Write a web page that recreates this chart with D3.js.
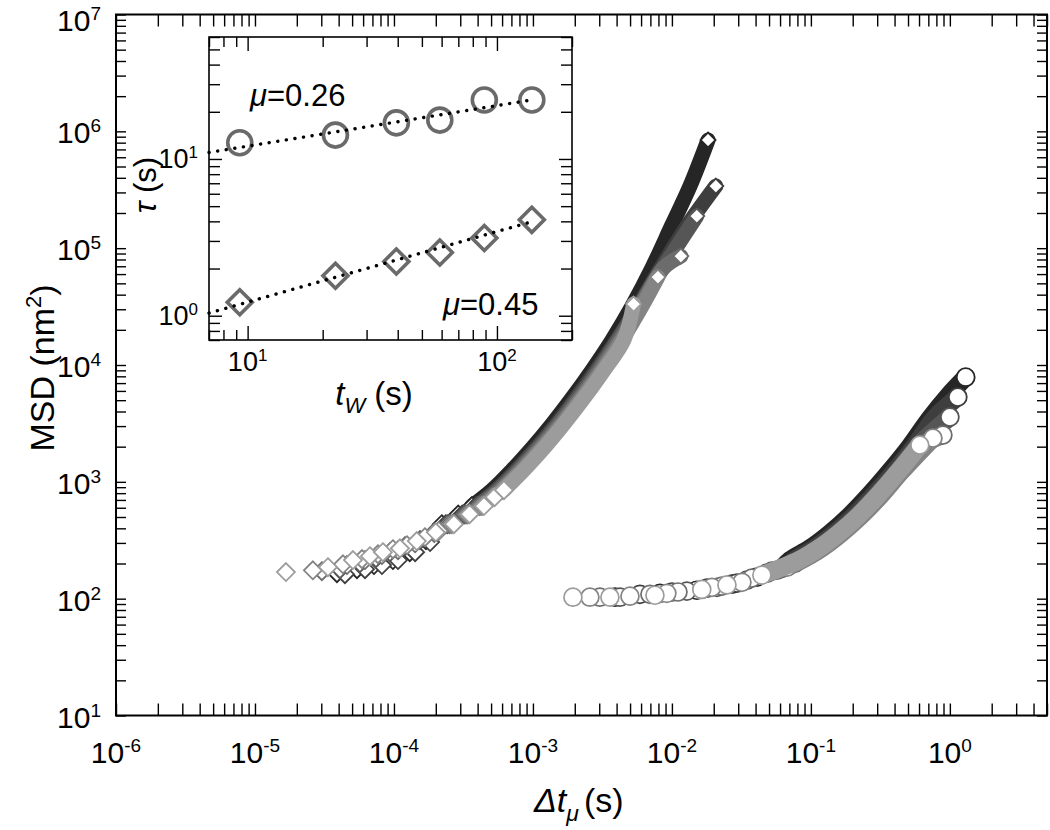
<!DOCTYPE html>
<html><head><meta charset="utf-8">
<script src="https://cdn.jsdelivr.net/npm/d3@7/dist/d3.min.js"></script>
<style>
html,body{margin:0;padding:0;background:#fff;}
svg{display:block;}
text{font-family:"Liberation Sans",Arial,Helvetica,sans-serif;fill:#000;}
</style></head><body>
<svg id="chart" width="1050" height="830"></svg>
<script>
// ---------------- tick labels ----------------
const xMajor = [1e-6, 1e-5, 1e-4, 1e-3, 1e-2, 1e-1, 1];
const xMajorExp = ["-6", "-5", "-4", "-3", "-2", "-1", "0"];
const yMajor = [1e1, 1e2, 1e3, 1e4, 1e5, 1e6, 1e7];
const yMajorExp = ["1", "2", "3", "4", "5", "6", "7"];
const insetXMajor = [10, 100];
const insetXMajorExp = ["1", "2"];
const insetYMajor = [1, 10];
const insetYMajorExp = ["0", "1"];

// ---------------- inset data ----------------
const waitTime = [9.3, 22.5, 39.5, 59, 89, 138];
const tauCircles = [12.7, 14.2, 17.0, 17.7, 23.8, 23.8];
const tauDiamonds = [1.22, 1.80, 2.22, 2.53, 3.13, 4.09];
const fitWaitTime = [7, 138];
const fitTauCircles = [11.0, 23.8];
const fitTauDiamonds = [1.04, 3.98];
const muLabels = ["=0.26", "=0.45"];

// ---------------- main data: diamonds (6 waiting times) ----------------
const diaDt1 = [3.89e-5,5.42e-5,7.18e-5,9.83e-5,1.30e-4,1.70e-4,2.21e-4,2.90e-4,3.64e-4,5.07e-4,7.06e-4,9.83e-4,1.37e-3,1.91e-3,2.66e-3,3.70e-3,5.16e-3,7.18e-3,1.00e-2,1.35e-2,1.82e-2];
const diaMsd1 = [165,179,194,214,250,317,434,525,620,849,1259,1941,3119,5212,9036,16330,31900,67600,157800,340000,843000];
const diaDt2 = [4.44e-5,6.19e-5,8.20e-5,1.07e-4,1.42e-4,1.82e-4,2.36e-4,3.10e-4,3.90e-4,5.42e-4,7.55e-4,1.05e-3,1.47e-3,2.04e-3,2.85e-3,4.00e-3,5.70e-3,8.30e-3,1.30e-2,2.07e-2];
const diaMsd2 = [162,179,194,214,250,305,434,525,620,849,1259,1941,3119,5212,9036,16330,31900,67600,157800,340000];
const diaDt3 = [4.09e-5,5.69e-5,7.42e-5,9.36e-5,1.20e-4,1.54e-4,1.95e-4,2.43e-4,3.20e-4,4.00e-4,5.58e-4,7.77e-4,1.08e-3,1.51e-3,2.10e-3,2.93e-3,4.07e-3,5.80e-3,8.60e-3,1.51e-2];
const diaMsd3 = [179,201,222,250,281,317,370,434,525,620,849,1259,1941,3119,5212,9036,16330,31900,67600,188400];
const diaDt4 = [3.03e-5,4.59e-5,6.19e-5,8.20e-5,1.07e-4,1.42e-4,1.95e-4,2.52e-4,3.30e-4,4.15e-4,5.78e-4,8.05e-4,1.12e-3,1.56e-3,2.18e-3,3.03e-3,4.22e-3,5.90e-3,8.70e-3,1.16e-2];
const diaMsd4 = [172,194,214,236,260,298,365,434,525,620,849,1259,1941,3119,5212,9036,16330,31900,67600,85500];
const diaDt5 = [2.61e-5,4.30e-5,5.89e-5,7.67e-5,9.83e-5,1.24e-4,1.67e-4,2.10e-4,2.61e-4,3.40e-4,4.30e-4,5.10e-4,5.98e-4,8.33e-4,1.16e-3,1.62e-3,2.25e-3,3.14e-3,4.37e-3,6.10e-3,7.93e-3];
const diaMsd5 = [175,197,218,240,265,287,336,380,434,525,620,730,849,1259,1941,3119,5212,9036,16330,31900,56600];
const diaDt6 = [1.67e-5,3.35e-5,5.07e-5,6.72e-5,8.33e-5,1.105e-4,1.46e-4,2.00e-4,2.70e-4,3.50e-4,4.44e-4,5.30e-4,6.19e-4,8.61e-4,1.20e-3,1.67e-3,2.33e-3,3.25e-3,4.51e-3,5.30e-3];
const diaMsd6 = [169,186,214,231,250,270,311,370,434,529,620,740,849,1259,1941,3119,5212,9036,16330,33200];
const diaDenseFrom = [9, 9, 10, 10, 13, 13];

// ---------------- main data: circles (6 waiting times) ----------------
const cirDt1 = [3.89e-3,8.20e-3,1.51e-2,2.70e-2,4.09e-2,6.19e-2,7.06e-2,9.83e-2,0.137,0.191,0.266,0.370,0.516,0.718,0.967,1.30];
const cirMsd1 = [103,111,118,133,153,182,214,270,364,519,785,1236,2023,3508,5420,7870];
const cirDt2 = [5.89e-3,1.00e-2,1.79e-2,2.94e-2,4.83e-2,7.06e-2,7.62e-2,0.106,0.148,0.206,0.287,0.400,0.557,0.775,1.14];
const cirMsd2 = [109,114,123,136,165,194,214,270,364,519,785,1236,2023,3508,5310];
const cirDt3 = [4.23e-3,1.28e-2,2.11e-2,3.46e-2,5.24e-2,7.67e-2,0.112,0.156,0.218,0.303,0.422,0.588,1.00];
const cirMsd3 = [103,116,125,144,172,201,270,364,519,785,1236,2023,3580];
const cirDt4 = [3.03e-3,6.95e-3,1.105e-2,2.29e-2,3.76e-2,5.69e-2,8.47e-2,0.118,0.164,0.229,0.319,0.444,0.619,0.890];
const cirMsd4 = [103,109,114,128,150,175,214,270,364,519,785,1236,2023,2512];
const cirDt5 = [2.57e-3,4.99e-3,9.20e-3,1.94e-2,3.19e-2,6.72e-2,8.61e-2,0.120,0.167,0.233,0.325,0.451,0.755];
const cirMsd5 = [103,105,111,125,138,186,214,270,364,519,785,1236,2366];
const cirDt6 = [1.94e-3,3.58e-3,7.55e-3,1.64e-2,2.49e-2,4.44e-2,8.19e-2,0.114,0.159,0.222,0.309,0.429,0.608];
const cirMsd6 = [103,103,107,120,131,159,214,270,364,519,785,1236,2061];
const cirDenseFrom = [6, 6, 6, 6, 6, 6];

const seriesGrays = ["#262626", "#3e3e3e", "#565656", "#6c6c6c", "#848484", "#9c9c9c"];

// ---------------- build ----------------
const svg = d3.select("#chart");
const x = d3.scaleLog().domain([1e-6, 5]).range([116, 1047]);
const y = d3.scaleLog().domain([10, 1e7]).range([715.5, 14.5]);

const isMajor = d => Math.abs(Math.log10(d) - Math.round(Math.log10(d))) < 1e-9;

function tickAxis(axis, tx, ty, attr, sign, majorLen, minorLen) {
  const g = svg.append("g").attr("transform", `translate(${tx},${ty})`).call(axis);
  g.select(".domain").remove();
  g.selectAll(".tick text").remove();
  g.selectAll(".tick line").attr("stroke", "#000").attr("stroke-width", 1.4)
    .attr(attr, d => sign * (isMajor(d) ? majorLen : minorLen));
  return g;
}

// main ticks (inward, all four sides)
tickAxis(d3.axisBottom(x).tickValues(x.ticks()).tickSizeOuter(0), 0, y.range()[0], "y2", -1, 12, 12);
tickAxis(d3.axisTop(x).tickValues(x.ticks()).tickSizeOuter(0), 0, y.range()[1], "y2", 1, 12, 12);
tickAxis(d3.axisLeft(y).tickValues(y.ticks()).tickSizeOuter(0), x.range()[0], 0, "x2", 1, 10, 10);
tickAxis(d3.axisRight(y).tickValues(y.ticks()).tickSizeOuter(0), x.range()[1], 0, "x2", -1, 10, 10);

svg.append("rect").attr("x", x.range()[0]).attr("y", y.range()[1])
  .attr("width", x.range()[1] - x.range()[0]).attr("height", y.range()[0] - y.range()[1])
  .attr("fill", "none").attr("stroke", "#000").attr("stroke-width", 2);

// main tick labels
svg.append("g").selectAll("text").data(xMajor).join("text")
  .attr("x", d => x(d)).attr("y", 763).attr("text-anchor", "middle").attr("font-size", 30)
  .each(function (d, i) {
    const t = d3.select(this);
    t.append("tspan").text("10");
    t.append("tspan").attr("font-size", 19).attr("dy", -11).text(xMajorExp[i]);
  });
svg.append("g").selectAll("text").data(yMajor).join("text")
  .attr("x", 101).attr("y", d => Math.max(y(d) + 12, 31)).attr("text-anchor", "end").attr("font-size", 30)
  .each(function (d, i) {
    const t = d3.select(this);
    t.append("tspan").text("10");
    t.append("tspan").attr("font-size", 19).attr("dy", -11).text(yMajorExp[i]);
  });

// axis titles
const xt = svg.append("text").attr("x", 534).attr("y", 812).attr("font-size", 34);
xt.append("tspan").attr("font-style", "italic").text("Δt");
xt.append("tspan").attr("font-style", "italic").attr("font-size", 23).attr("dy", 9).text("μ");
xt.append("tspan").attr("dy", -9).attr("dx", 5).text("(s)");

const yt = svg.append("text").attr("transform", "translate(54,368) rotate(-90)")
  .attr("text-anchor", "middle").attr("font-size", 34);
yt.append("tspan").text("MSD (nm");
yt.append("tspan").attr("font-size", 22).attr("dy", -13).text("2");
yt.append("tspan").attr("dy", 13).text(")");

// ---------------- main series ----------------
const diamondPath = r => `M0,${-r}L${r},0L0,${r}L${-r},0Z`;
const band = d3.line().x(d => x(d[0])).y(d => y(d[1])).curve(d3.curveCatmullRom.alpha(0.5));

const diaSeries = [
  [diaDt1, diaMsd1], [diaDt2, diaMsd2], [diaDt3, diaMsd3],
  [diaDt4, diaMsd4], [diaDt5, diaMsd5], [diaDt6, diaMsd6]
];
const cirSeries = [
  [cirDt1, cirMsd1], [cirDt2, cirMsd2], [cirDt3, cirMsd3],
  [cirDt4, cirMsd4], [cirDt5, cirMsd5], [cirDt6, cirMsd6]
];

const dataG = svg.append("g");
const endG = svg.append("g");

function drawSeries(list, denseFrom, shape, bandWidth) {
  list.forEach(([dts, msds], k) => {
    const pts = dts.map((t, i) => [t, msds[i]]);
    const col = seriesGrays[k];
    const g = dataG.append("g");
    g.append("path").attr("d", band(pts.slice(denseFrom[k] - 1)))
      .attr("fill", "none").attr("stroke", col).attr("stroke-width", bandWidth)
      .attr("stroke-linejoin", "round").attr("stroke-linecap", "round");
    const sparse = pts.slice(0, denseFrom[k]);
    if (shape === "diamond") {
      g.selectAll("path.m").data(sparse).join("path").attr("class", "m")
        .attr("d", diamondPath(9)).attr("transform", d => `translate(${x(d[0])},${y(d[1])})`)
        .attr("fill", "#fff").attr("stroke", col).attr("stroke-width", 1.8);
    } else {
      g.selectAll("circle").data(sparse).join("circle")
        .attr("cx", d => x(d[0])).attr("cy", d => y(d[1])).attr("r", 9)
        .attr("fill", "#fff").attr("stroke", col).attr("stroke-width", 1.7);
    }
    const last = pts[pts.length - 1];
    if (shape === "diamond") {
      endG.append("path").attr("d", diamondPath(7.5))
        .attr("transform", `translate(${x(last[0])},${y(last[1])})`)
        .attr("fill", "#fff").attr("stroke", col).attr("stroke-width", 1.8);
    } else {
      endG.append("circle").attr("cx", x(last[0])).attr("cy", y(last[1])).attr("r", 9)
        .attr("fill", "#fff").attr("stroke", col).attr("stroke-width", 1.8);
    }
  });
}
drawSeries(diaSeries, diaDenseFrom, "diamond", 15);
drawSeries(cirSeries, cirDenseFrom, "circle", 18);

// ---------------- inset ----------------
const xi = d3.scaleLog().domain([7, 200]).range([209, 572]);
const yi = d3.scaleLog().domain([0.7, 60]).range([340, 37]);

svg.append("rect").attr("x", 209).attr("y", 37).attr("width", 363).attr("height", 303)
  .attr("fill", "#fff");

tickAxis(d3.axisBottom(xi).tickValues(xi.ticks()).tickSizeOuter(0), 0, yi.range()[0], "y2", -1, 14, 10);
tickAxis(d3.axisTop(xi).tickValues(xi.ticks()).tickSizeOuter(0), 0, yi.range()[1], "y2", 1, 14, 10);
tickAxis(d3.axisLeft(yi).tickValues(yi.ticks()).tickSizeOuter(0), xi.range()[0], 0, "x2", 1, 13, 11);
tickAxis(d3.axisRight(yi).tickValues(yi.ticks()).tickSizeOuter(0), xi.range()[1], 0, "x2", -1, 13, 11);

const markerGray = "#6a6a6a";
svg.append("g").selectAll("circle").data(waitTime).join("circle")
  .attr("cx", d => xi(d)).attr("cy", (d, i) => yi(tauCircles[i])).attr("r", 12)
  .attr("fill", "none").attr("stroke", markerGray).attr("stroke-width", 3.6);
svg.append("g").selectAll("path").data(waitTime).join("path")
  .attr("d", diamondPath(12.5))
  .attr("transform", (d, i) => `translate(${xi(d)},${yi(tauDiamonds[i])})`)
  .attr("fill", "none").attr("stroke", markerGray).attr("stroke-width", 3.6);

const fitLine = d3.line().x(d => xi(d[0])).y(d => yi(d[1]));
[fitTauCircles, fitTauDiamonds].forEach(arr => {
  svg.append("path").attr("d", fitLine(fitWaitTime.map((t, i) => [t, arr[i]])))
    .attr("fill", "none").attr("stroke", "#000").attr("stroke-width", 3.4)
    .attr("stroke-linecap", "round").attr("stroke-dasharray", "0.1 8.6");
});

svg.append("rect").attr("x", 209).attr("y", 37).attr("width", 363).attr("height", 303)
  .attr("fill", "none").attr("stroke", "#000").attr("stroke-width", 1.6);

// inset tick labels
svg.append("g").selectAll("text").data(insetXMajor).join("text")
  .attr("x", d => xi(d)).attr("y", 371).attr("text-anchor", "middle").attr("font-size", 27)
  .each(function (d, i) {
    const t = d3.select(this);
    t.append("tspan").text("10");
    t.append("tspan").attr("font-size", 17).attr("dy", -10).text(insetXMajorExp[i]);
  });
svg.append("g").selectAll("text").data(insetYMajor).join("text")
  .attr("x", 198).attr("y", d => yi(d) + 9).attr("text-anchor", "end").attr("font-size", 27)
  .each(function (d, i) {
    const t = d3.select(this);
    t.append("tspan").text("10");
    t.append("tspan").attr("font-size", 17).attr("dy", -10).text(insetYMajorExp[i]);
  });

// inset titles
const ixt = svg.append("text").attr("x", 374).attr("y", 405).attr("text-anchor", "middle").attr("font-size", 33);
ixt.append("tspan").attr("font-style", "italic").text("t");
ixt.append("tspan").attr("font-style", "italic").attr("font-size", 22).attr("dy", 8).text("W");
ixt.append("tspan").attr("dy", -8).text(" (s)");

const iyt = svg.append("text").attr("transform", "translate(156,185) rotate(-90)")
  .attr("text-anchor", "middle").attr("font-size", 31);
iyt.append("tspan").attr("font-style", "italic").text("τ");
iyt.append("tspan").text(" (s)");

// mu labels
const mu1 = svg.append("text").attr("x", 250).attr("y", 106).attr("font-size", 31);
mu1.append("tspan").attr("font-style", "italic").text("μ");
mu1.append("tspan").text(muLabels[0]);
const mu2 = svg.append("text").attr("x", 443).attr("y", 315).attr("font-size", 31);
mu2.append("tspan").attr("font-style", "italic").text("μ");
mu2.append("tspan").text(muLabels[1]);
</script>
</body></html>
